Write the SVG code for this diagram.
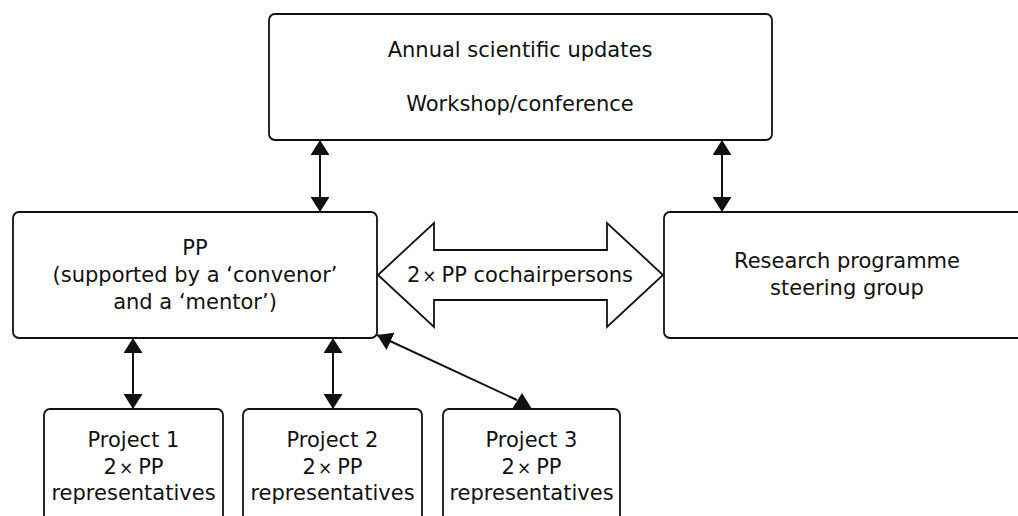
<svg xmlns="http://www.w3.org/2000/svg" width="1018" height="516" viewBox="0 0 1018 516">
  <style>
    .box { fill: #ffffff; stroke: #111111; stroke-width: 1.8; }
    .lbl { font-family: "DejaVu Sans", "Open Sans", sans-serif; font-size: 21px; fill: #111111; text-anchor: middle; }
    .times { font-size: 17px; }
    .link { stroke: #111111; stroke-width: 2; fill: none; }
  </style>
  <defs>
    <marker id="head" viewBox="0 0 15 19" refX="15" refY="9.5" markerWidth="15" markerHeight="19" markerUnits="userSpaceOnUse" orient="auto-start-reverse">
      <path d="M0,0 L15,9.5 L0,19 Z" fill="#111111"/>
    </marker>
  </defs>
  <rect width="1018" height="516" fill="#ffffff"/>

  <g id="workshop">
    <rect class="box" x="269" y="14" width="503" height="126" rx="6"/>
    <text class="lbl" x="520" y="57">Annual scientific updates</text>
    <text class="lbl" x="520" y="111">Workshop/conference</text>
  </g>

  <g id="pp">
    <rect class="box" x="13" y="212" width="364" height="126" rx="6"/>
    <text class="lbl" x="195" y="255">PP</text>
    <text class="lbl" x="195" y="282">(supported by a ‘convenor’</text>
    <text class="lbl" x="195" y="309">and a ‘mentor’)</text>
  </g>

  <g id="steering">
    <rect class="box" x="664" y="212" width="370" height="126" rx="6"/>
    <text class="lbl" x="847" y="268">Research programme</text>
    <text class="lbl" x="847" y="295">steering group</text>
  </g>

  <g id="project1">
    <rect class="box" x="44" y="409" width="179" height="120" rx="6"/>
    <text class="lbl" x="133.5" y="447">Project 1</text>
    <text class="lbl" x="133.5" y="474">2<tspan class="times" dx="2">×</tspan><tspan dx="5">PP</tspan></text>
    <text class="lbl" x="133.5" y="500">representatives</text>
  </g>

  <g id="project2">
    <rect class="box" x="243" y="409" width="179" height="120" rx="6"/>
    <text class="lbl" x="332.5" y="447">Project 2</text>
    <text class="lbl" x="332.5" y="474">2<tspan class="times" dx="2">×</tspan><tspan dx="5">PP</tspan></text>
    <text class="lbl" x="332.5" y="500">representatives</text>
  </g>

  <g id="project3">
    <rect class="box" x="443" y="409" width="177" height="120" rx="6"/>
    <text class="lbl" x="531.5" y="447">Project 3</text>
    <text class="lbl" x="531.5" y="474">2<tspan class="times" dx="2">×</tspan><tspan dx="5">PP</tspan></text>
    <text class="lbl" x="531.5" y="500">representatives</text>
  </g>

  <g id="connectors">
    <line class="link" x1="320" y1="140" x2="320" y2="212" marker-start="url(#head)" marker-end="url(#head)"/>
    <line class="link" x1="722" y1="140" x2="722" y2="212" marker-start="url(#head)" marker-end="url(#head)"/>
    <line class="link" x1="133" y1="338" x2="133" y2="409" marker-start="url(#head)" marker-end="url(#head)"/>
    <line class="link" x1="333" y1="338" x2="333" y2="409" marker-start="url(#head)" marker-end="url(#head)"/>
    <line class="link" x1="377" y1="335" x2="517" y2="400" marker-start="url(#head)"/>
    <polygon points="522,393 512,409 532,409" fill="#111111"/>
    <!-- double-headed block arrow between PP and steering group -->
    <polygon points="378,275 434,223 434,250 607,250 607,223 663,275 607,327 607,300 434,300 434,327" fill="#ffffff" stroke="#111111" stroke-width="1.8" stroke-linejoin="miter"/>
    <text class="lbl" x="520" y="282">2<tspan class="times" dx="2">×</tspan><tspan dx="5">PP cochairpersons</tspan></text>
  </g>
</svg>
